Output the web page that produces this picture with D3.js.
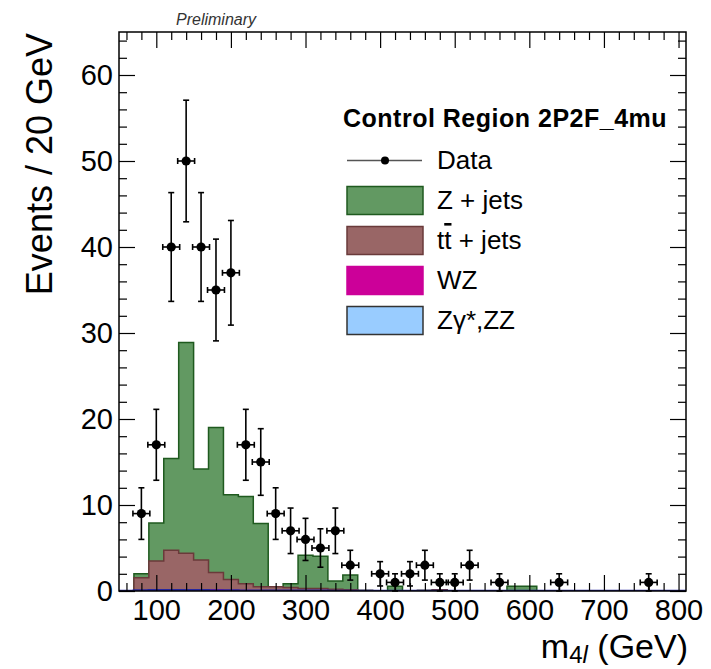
<!DOCTYPE html>
<html>
<head>
<meta charset="utf-8">
<script src="https://cdn.jsdelivr.net/npm/d3@7"></script>
<style>
  body { margin: 0; background: #fff; }
  text { font-family: "Liberation Sans", Arial, sans-serif; }
</style>
</head>
<body>
<script>
// bins of 20 GeV, centers
const binCenters = [60, 80, 100, 120, 140, 160, 180, 200, 220, 240, 260, 280, 300, 320, 340, 360, 380, 400, 420,
  440, 460, 480, 500, 520, 540, 560, 580, 600, 620, 640, 660, 680, 700, 720, 740, 760, 780, 800];
const binWidth = 20;

const dataCounts = [0, 9, 17, 40, 50, 40, 35, 37, 17, 15, 9, 7, 6, 5, 7, 3, 0, 2, 1,
  2, 3, 1, 1, 3, 0, 1, 0, 0, 0, 1, 0, 0, 0, 0, 0, 1, 0, 0];

const zJets = [0, 0.47, 4.4, 10.65, 24.5, 10.6, 16.85, 9.85, 10.15, 7.35, 0, 0.45, 3.85, 3.75, 0.95, 1.7, 0, 0, 0.52,
  0, 0, 0, 0, 0, 0, 0, 0.55, 0.55, 0, 0, 0, 0, 0, 0, 0, 0, 0, 0];
const ttJets = [0, 1.5, 3.39, 4.6, 4.24, 3.47, 1.99, 1.26, 0.78, 0.45, 0.45, 0.38, 0.28, 0.28, 0.19, 0.15, 0.05, 0.04, 0.03,
  0.03, 0.05, 0.15, 0.02, 0, 0, 0, 0, 0, 0, 0, 0, 0, 0, 0, 0, 0, 0, 0];
const wzBkg = [0, 0, 0.03, 0.05, 0.06, 0.05, 0.1, 0.04, 0.03, 0.02, 0.02, 0, 0, 0, 0, 0, 0, 0, 0,
  0, 0, 0, 0, 0, 0, 0, 0, 0, 0, 0, 0, 0, 0, 0, 0, 0, 0, 0];
const zzBkg = [0, 0.05, 0.08, 0.1, 0.1, 0.08, 0.06, 0.05, 0.04, 0.03, 0.03, 0.02, 0.02, 0.02, 0.01, 0, 0, 0, 0,
  0, 0, 0, 0, 0, 0, 0, 0, 0, 0, 0, 0, 0, 0, 0, 0, 0, 0, 0];

const xTickLabels = [100, 200, 300, 400, 500, 600, 700, 800];
const yTickLabels = [0, 10, 20, 30, 40, 50, 60];
const legendTitle = "Control Region 2P2F_4mu";
const legendLabels = ["Data", "Z + jets", "tt + jets", "WZ", "Z\u03b3*,ZZ"];

const margin = { top: 32, right: 25, bottom: 78, left: 119 };
const width = 711 - margin.left - margin.right;
const height = 669 - margin.top - margin.bottom;

const svg = d3.select("body")
  .append("svg")
  .attr("width", 711)
  .attr("height", 669);

const g = svg.append("g")
  .attr("transform", `translate(${margin.left},${margin.top})`);

const x = d3.scaleLinear().domain([50, 810]).range([0, width]);
const y = d3.scaleLinear().domain([0, 65]).range([height, 0]);

g.append("clipPath").attr("id", "plotclip")
  .append("rect").attr("width", width).attr("height", height);

// stacked backgrounds, drawn ROOT style (cumulative totals, top layer first)
const table = binCenters.map((c, i) => ({ center: c, zz: zzBkg[i], wz: wzBkg[i], tt: ttJets[i], zj: zJets[i] }));
const stack = d3.stack().keys(["zz", "wz", "tt", "zj"])(table);

const styles = {
  zj: { fill: "#629962", stroke: "#1f5a1f", sw: 1.5 },
  tt: { fill: "#996666", stroke: "#6a3a3a", sw: 1.5 },
  wz: { fill: "#cc0099", stroke: "#cc0099", sw: 1 },
  zz: { fill: "#99ccff", stroke: "#26269e", sw: 2.5 }
};

const area = d3.area()
  .x(p => x(p[0]))
  .y0(y(0))
  .y1(p => y(p[1]));

const histG = g.append("g").attr("clip-path", "url(#plotclip)");
stack.slice().reverse().forEach(layer => {
  const pts = [];
  layer.forEach(d => {
    pts.push([d.data.center - binWidth / 2, d[1]]);
    pts.push([d.data.center + binWidth / 2, d[1]]);
  });
  const s = styles[layer.key];
  histG.append("path")
    .datum(pts)
    .attr("d", area)
    .attr("fill", s.fill)
    .attr("stroke", s.stroke)
    .attr("stroke-width", s.sw);
});

// axes: inward ticks on all four sides
function styleAxis(sel) {
  sel.select(".domain").remove();
  sel.selectAll(".tick line").attr("stroke", "#000").attr("stroke-width", 1.2);
  sel.selectAll("text").attr("font-size", 29).attr("fill", "#000")
    .style("font-family", "'Liberation Sans', Arial, sans-serif");
}

const xMinor = d3.range(60, 810, 20).filter(v => v % 100 !== 0);
const yMinor = d3.range(2, 65, 2).filter(v => v % 10 !== 0);

g.append("g").attr("transform", `translate(0,${height})`)
  .call(d3.axisBottom(x).tickValues(xTickLabels).tickSize(-16).tickPadding(8).tickFormat(d3.format("d")))
  .call(styleAxis);
g.append("g").attr("transform", `translate(0,${height})`)
  .call(d3.axisBottom(x).tickValues(xMinor).tickSize(-8).tickFormat(""))
  .call(styleAxis);
g.append("g")
  .call(d3.axisTop(x).tickValues(xTickLabels).tickSize(-16).tickFormat(""))
  .call(styleAxis);
g.append("g")
  .call(d3.axisTop(x).tickValues(xMinor).tickSize(-8).tickFormat(""))
  .call(styleAxis);

g.append("g")
  .call(d3.axisLeft(y).tickValues(yTickLabels).tickSize(-16).tickPadding(6).tickFormat(d3.format("d")))
  .call(styleAxis);
g.append("g")
  .call(d3.axisLeft(y).tickValues(yMinor).tickSize(-8).tickFormat(""))
  .call(styleAxis);
g.append("g").attr("transform", `translate(${width},0)`)
  .call(d3.axisRight(y).tickValues(yTickLabels).tickSize(-16).tickFormat(""))
  .call(styleAxis);
g.append("g").attr("transform", `translate(${width},0)`)
  .call(d3.axisRight(y).tickValues(yMinor).tickSize(-8).tickFormat(""))
  .call(styleAxis);

// frame
g.append("rect")
  .attr("width", width).attr("height", height)
  .attr("fill", "none").attr("stroke", "#000").attr("stroke-width", 1.5);

// data points with sqrt(N) errors
const pts = binCenters.map((c, i) => ({ c, n: dataCounts[i] })).filter(d => d.n > 0);
const dataG = g.append("g").attr("stroke", "#000").attr("stroke-width", 1.6);

pts.forEach(d => {
  const cx = x(d.c), cy = y(d.n);
  const err = Math.sqrt(d.n);
  const yHi = y(d.n + err), yLo = y(Math.max(d.n - err, 0));
  const xL = x(d.c - binWidth / 2) - 1, xR = x(d.c + binWidth / 2) + 1;
  dataG.append("line").attr("x1", cx).attr("x2", cx).attr("y1", yHi).attr("y2", yLo);
  dataG.append("line").attr("x1", cx - 3).attr("x2", cx + 3).attr("y1", yHi).attr("y2", yHi);
  dataG.append("line").attr("x1", cx - 3).attr("x2", cx + 3).attr("y1", yLo).attr("y2", yLo);
  dataG.append("line").attr("x1", xL).attr("x2", xR).attr("y1", cy).attr("y2", cy);
  dataG.append("line").attr("x1", xL).attr("x2", xL).attr("y1", cy - 3).attr("y2", cy + 3);
  dataG.append("line").attr("x1", xR).attr("x2", xR).attr("y1", cy - 3).attr("y2", cy + 3);
  dataG.append("circle").attr("cx", cx).attr("cy", cy).attr("r", 4.6)
    .attr("fill", "#000").attr("stroke", "none");
});

// axis titles
const xTitle = svg.append("text")
  .attr("x", 688).attr("y", 658)
  .attr("text-anchor", "end")
  .attr("font-size", 34)
  .attr("fill", "#000");
xTitle.append("tspan").text("m");
xTitle.append("tspan").attr("font-size", 24).attr("dy", 5).text("4");
xTitle.append("tspan").attr("font-size", 24).attr("font-style", "italic").text("l");
xTitle.append("tspan").attr("dy", -5).text(" (GeV)");

svg.append("text")
  .attr("transform", "translate(52,33) rotate(-90)")
  .attr("text-anchor", "end")
  .attr("font-size", 36)
  .attr("fill", "#000")
  .text("Events / 20 GeV");

svg.append("text")
  .attr("x", 176).attr("y", 25)
  .attr("font-size", 16)
  .attr("font-style", "italic")
  .attr("fill", "#333")
  .text("Preliminary");

// legend
const leg = svg.append("g");
leg.append("text")
  .attr("x", 343).attr("y", 127)
  .attr("font-size", 25).attr("font-weight", "bold")
  .attr("letter-spacing", 0.5)
  .attr("fill", "#000")
  .text(legendTitle);

const legFills = [null, styles.zj, styles.tt, styles.wz, { fill: "#99ccff", stroke: "#333" }];
legendLabels.forEach((lab, i) => {
  const cy = 160.5 + i * 40;
  if (i === 0) {
    leg.append("line").attr("x1", 347).attr("x2", 422).attr("y1", cy).attr("y2", cy)
      .attr("stroke", "#555").attr("stroke-width", 1.6);
    leg.append("circle").attr("cx", 385).attr("cy", cy).attr("r", 4).attr("fill", "#000");
  } else {
    leg.append("rect")
      .attr("x", 347).attr("y", cy - 14).attr("width", 76).attr("height", 28)
      .attr("fill", legFills[i].fill)
      .attr("stroke", legFills[i].stroke)
      .attr("stroke-width", 1.5);
  }
  const t = leg.append("text")
    .attr("x", 437).attr("y", cy + 8.5)
    .attr("font-size", 26).attr("fill", "#000");
  if (i === 2) {
    t.append("tspan").text("t");
    t.append("tspan").style("text-decoration", "overline").text("t");
    t.append("tspan").text(lab.slice(2));
  } else {
    t.text(lab);
  }
});
</script>
</body>
</html>
